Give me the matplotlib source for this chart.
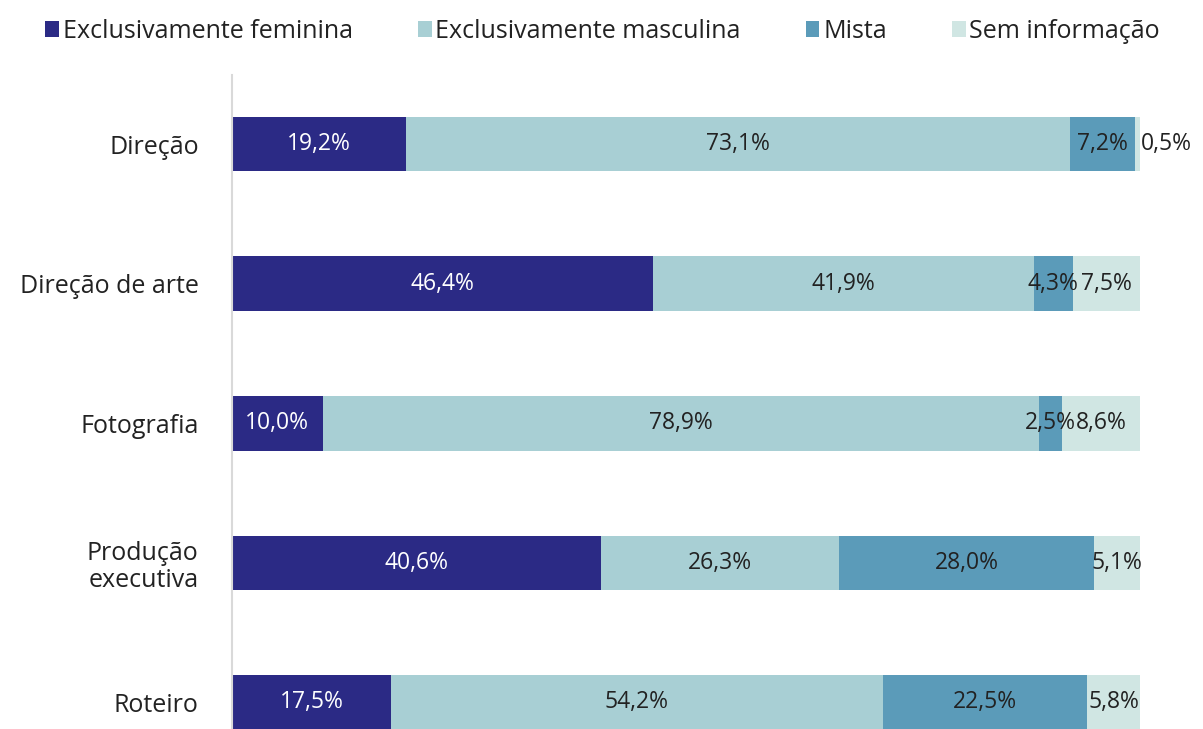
import matplotlib
matplotlib.use("Agg")
import matplotlib.pyplot as plt
from matplotlib.patches import Patch
import numpy as np

categories = ["Direção", "Direção de arte", "Fotografia", "Produção\nexecutiva", "Roteiro"]
series_names = ["Exclusivamente feminina", "Exclusivamente masculina", "Mista", "Sem informação"]
feminina = [19.2, 46.4, 10.0, 40.6, 17.5]
masculina = [73.1, 41.9, 78.9, 26.3, 54.2]
mista = [7.2, 4.3, 2.5, 28.0, 22.5]
sem_info = [0.5, 7.5, 8.6, 5.1, 5.8]

colors = ["#2b2a85", "#a8cfd4", "#5b9bb9", "#d0e6e3"]
text_colors = ["white", "#222222", "#222222", "#222222"]

plt.rcParams['font.family'] = ['Open Sans', 'DejaVu Sans']

fig = plt.figure(figsize=(12.03, 7.29), dpi=100)
ax = fig.add_axes([232/1203, 0, 908/1203, (729-75)/729])

y = np.arange(len(categories))
left = np.zeros(len(categories))
for vals, col, tc in zip([feminina, masculina, mista, sem_info], colors, text_colors):
    vals = np.array(vals)
    ax.barh(y, vals, left=left, height=0.39, color=col)
    for i, v in enumerate(vals):
        if v < 1.5:
            ax.text(left[i] + v + 0.1, y[i], f"{v:.1f}%".replace(".", ","),
                    ha="left", va="center", fontsize=16.5, color=tc)
        else:
            ax.text(left[i] + v / 2, y[i], f"{v:.1f}%".replace(".", ","),
                    ha="center", va="center", fontsize=16.5, color=tc)
    left += vals

ax.set_xlim(0, 100)
ax.set_ylim(4.19, -0.495)
ax.set_yticks(y)
ax.set_yticklabels(categories, fontsize=18, color="#222222", linespacing=1.1)
ax.tick_params(axis="y", length=0, pad=24)
ax.set_xticks([])
for s in ["top", "right", "bottom"]:
    ax.spines[s].set_visible(False)
ax.spines["left"].set_color("#d9d9d9")
ax.spines["left"].set_linewidth(1.5)

handles = [Patch(facecolor=c, edgecolor="none") for c in colors]
fig.legend(handles, series_names, loc="upper left", bbox_to_anchor=(0.019, 1.005),
           ncol=4, frameon=False, fontsize=18, handlelength=0.55, handleheight=0.55,
           handletextpad=0.15, columnspacing=2.6, labelcolor="#222222")

fig.savefig("out.png", dpi=100)
